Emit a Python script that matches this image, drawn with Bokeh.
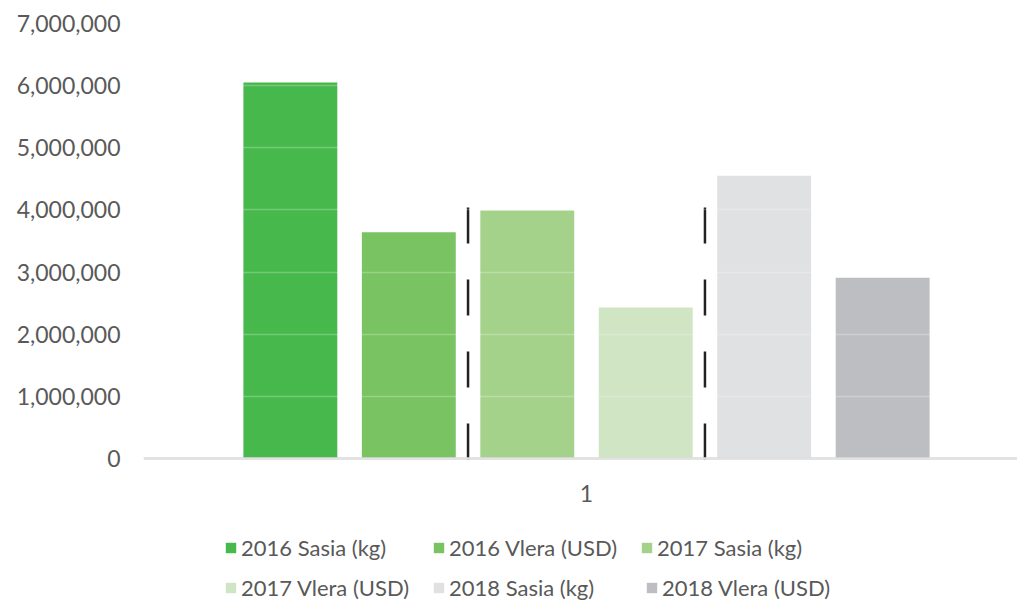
from bokeh.plotting import figure
from bokeh.models import Range1d, FixedTicker, Legend, LegendItem, NumeralTickFormatter, Span, Label
from bokeh.embed import file_html
from bokeh.resources import INLINE

# ---- data ----
series = ["2016 Sasia (kg)", "2016 Vlera (USD)", "2017 Sasia (kg)",
          "2017 Vlera (USD)", "2018 Sasia (kg)", "2018 Vlera (USD)"]
values = [6050000, 3640000, 3990000, 2430000, 4550000, 2910000]
colors = ["#47B84B", "#7AC363", "#A5D28A", "#CFE5C4", "#E0E1E3", "#BDBEC1"]
category = "1"
y_ticks = [0, 1000000, 2000000, 3000000, 4000000, 5000000, 6000000, 7000000]
y_max = 7000000
separator_top = 4040000

FONT = "Lato"
TXT = "#595959"

W, H = 1017, 603
FL, FT = 143, 23          # frame left / top in page px
AXIS_Y = 458              # page y of the value 0
px_per_unit = (AXIS_Y - FT) / y_max
y_start = -(H - AXIS_Y) / px_per_unit


def y_at(page_y):
    return (AXIS_Y - page_y) / px_per_unit


p = figure(width=W, height=H, output_backend="svg", toolbar_location=None,
           x_range=Range1d(-0.5, -0.5 + (W - FL) / 886), y_range=Range1d(y_start, y_max),
           min_border_left=FL, min_border_right=0, min_border_top=FT,
           min_border_bottom=0)
p.outline_line_color = None

step = 0.1337
bw = 0.106
renderers = []
for i, (name, v, c) in enumerate(zip(series, values, colors)):
    x = (i - 2.5) * step
    r = p.vbar(x=[x], top=[v], width=bw, fill_color=c, line_color=None)
    renderers.append((name, r))

# separators between year groups
for k in (1, 3):
    xs = ((k - 2.5) * step + (k + 1 - 2.5) * step) / 2
    p.segment(x0=[xs], y0=[separator_top], x1=[xs], y1=[y_at(461)], line_color="#222222",
              line_width=2.5, line_dash="36 36")

# y axis
p.yaxis.ticker = FixedTicker(ticks=y_ticks)
p.yaxis.formatter = NumeralTickFormatter(format="0,0")
p.yaxis.axis_line_color = None
p.yaxis.major_tick_line_color = None
p.yaxis.minor_tick_line_color = None
p.yaxis.major_tick_out = 0
p.yaxis.major_label_text_font = FONT
p.yaxis.major_label_text_font_size = "23px"
p.yaxis.major_label_text_color = TXT
p.yaxis.major_label_standoff = 23

# category axis drawn inside the frame
p.xaxis.visible = False
p.add_layout(Span(location=0, dimension="width", line_color="#D9D9D9", line_width=2.5))
p.add_layout(Label(x=0, y=y_at(493), text=category, text_align="center",
                   text_baseline="middle", text_font=FONT, text_font_size="23px",
                   text_color=TXT))

p.xgrid.visible = False
p.ygrid.ticker = FixedTicker(ticks=y_ticks)
p.ygrid.grid_line_color = "white"
p.ygrid.grid_line_alpha = 0.25
p.ygrid.grid_line_width = 1.5
p.ygrid.level = "overlay"

# legend: one single-item legend per entry, placed on a grid
glyph_left = [224, 432, 640, 224, 432, 645]
row_center = [549, 549, 549, 589, 589, 589]
item_h = 24
for (n, r), gx, cy in zip(renderers, glyph_left, row_center):
    lg = Legend(items=[LegendItem(label=n, renderers=[r])],
                location=(gx - FL, H - (cy + item_h / 2)),
                glyph_width=13, glyph_height=13, label_height=13,
                label_standoff=4, spacing=0, padding=0, margin=0,
                label_text_font=FONT, label_text_font_size="22px",
                label_text_color=TXT, border_line_color=None,
                background_fill_alpha=0)
    p.add_layout(lg, "center")

open("out.html", "w").write(file_html(p, INLINE))
